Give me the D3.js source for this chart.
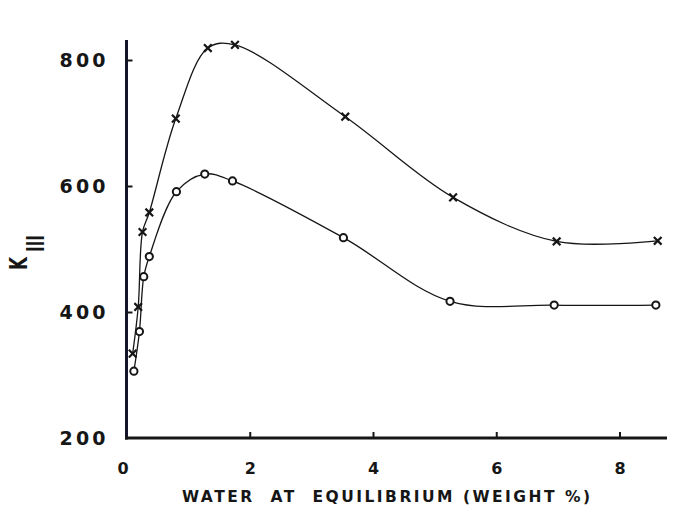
<!DOCTYPE html>
<html>
<head>
<meta charset="utf-8">
<script src="https://cdn.jsdelivr.net/npm/d3@7/dist/d3.min.js"></script>
<style>
  html, body { margin: 0; padding: 0; background: #fff; }
  svg { display: block; }
</style>
</head>
<body>
<svg id="chart" width="677" height="518"></svg>
<script>
// ---- data ----
const xTicks = [0, 2, 4, 6, 8];
const yTicks = [200, 400, 600, 800];
const crossX = [0.10, 0.19, 0.26, 0.37, 0.80, 1.32, 1.76, 3.55, 5.30, 6.98, 8.62];
const crossY = [334, 408, 527, 558, 707, 819, 824, 710, 582, 512, 513];
const circleX = [0.12, 0.21, 0.28, 0.37, 0.81, 1.27, 1.72, 3.52, 5.25, 6.94, 8.59];
const circleY = [306, 369, 456, 488, 591, 619, 608, 518, 417, 411, 411];
const xTitle = "WATER  AT  EQUILIBRIUM (WEIGHT %)";

const svg = d3.select("#chart");
const x = d3.scaleLinear().domain([0, 8]).range([126.5, 619.5]);
const y = d3.scaleLinear().domain([200, 800]).range([438, 60]);

const ink = "#161616";
const tickFont = "'DejaVu Sans', sans-serif";

// axis lines
svg.append("line").attr("x1", x(0)).attr("x2", x(0)).attr("y1", 40).attr("y2", y(200) + 1.5)
  .attr("stroke", "#14142a").attr("stroke-width", 3);
svg.append("line").attr("x1", x(0) - 1.5).attr("x2", 667).attr("y1", y(200)).attr("y2", y(200))
  .attr("stroke", ink).attr("stroke-width", 3);

// y axis ticks + labels
const yAxis = d3.axisLeft(y).tickValues(yTicks).tickSizeInner(-6).tickSizeOuter(0).tickPadding(21);
const gy = svg.append("g").attr("transform", `translate(${x(0)},0)`).call(yAxis);
gy.select(".domain").remove();
gy.selectAll(".tick line").attr("stroke", ink).attr("stroke-width", 2)
  .filter(d => d === 200).remove();
gy.selectAll(".tick text")
  .attr("font-family", tickFont).attr("font-weight", "bold").attr("font-size", 19)
  .attr("fill", ink).attr("textLength", 46).attr("lengthAdjust", "spacing");

// x axis ticks + labels
const xAxis = d3.axisBottom(x).tickValues(xTicks).tickSizeInner(-6).tickSizeOuter(0).tickPadding(24);
const gx = svg.append("g").attr("transform", `translate(0,${y(200)})`).call(xAxis);
gx.select(".domain").remove();
gx.selectAll(".tick line").attr("stroke", ink).attr("stroke-width", 2)
  .filter(d => d === 0).remove();
gx.selectAll(".tick text")
  .attr("font-family", tickFont).attr("font-weight", "bold").attr("font-size", 16)
  .attr("fill", ink).attr("dy", "0.72em");
gx.selectAll(".tick").filter(d => d === 0).select("text").attr("dx", -4);

// x title
svg.append("text").attr("x", 386).attr("y", 502).attr("text-anchor", "middle")
  .attr("font-family", tickFont).attr("font-weight", "bold").attr("font-size", 15.5)
  .attr("fill", ink).attr("textLength", 408).attr("lengthAdjust", "spacing")
  .attr("xml:space", "preserve")
  .text(xTitle);

// y title K_III
svg.append("text").attr("transform", "translate(27,270) rotate(-90)")
  .attr("font-family", tickFont).attr("font-weight", "bold").attr("font-size", 25)
  .attr("fill", ink).attr("textLength", 13).attr("lengthAdjust", "spacingAndGlyphs")
  .text("K");
svg.append("text").attr("transform", "translate(44,252) rotate(-90)")
  .attr("font-family", "'Noto Sans CJK JP', 'DejaVu Sans', sans-serif").attr("font-weight", "bold")
  .attr("font-size", 24)
  .attr("fill", ink).attr("textLength", 17).attr("lengthAdjust", "spacingAndGlyphs")
  .text("Ⅲ");

// curves
const line = d3.line().x(d => x(d[0])).y(d => y(d[1])).curve(d3.curveCatmullRom.alpha(0.5));
const crossPts = crossX.map((v, i) => [v, crossY[i]]);
const circlePts = circleX.map((v, i) => [v, circleY[i]]);

svg.append("path").attr("d", line(crossPts)).attr("fill", "none")
  .attr("stroke", ink).attr("stroke-width", 1.3);
svg.append("path").attr("d", line(circlePts)).attr("fill", "none")
  .attr("stroke", ink).attr("stroke-width", 1.3);

// cross markers
const cross = d3.symbol().type(d3.symbolX).size(40);
svg.append("g").selectAll("path").data(crossPts).join("path")
  .attr("transform", d => `translate(${x(d[0])},${y(d[1])})`)
  .attr("d", cross).attr("fill", "none").attr("stroke", ink).attr("stroke-width", 2.2);

// circle markers
svg.append("g").selectAll("circle").data(circlePts).join("circle")
  .attr("cx", d => x(d[0])).attr("cy", d => y(d[1])).attr("r", 3.6)
  .attr("fill", "#fff").attr("stroke", ink).attr("stroke-width", 2);
</script>
</body>
</html>
